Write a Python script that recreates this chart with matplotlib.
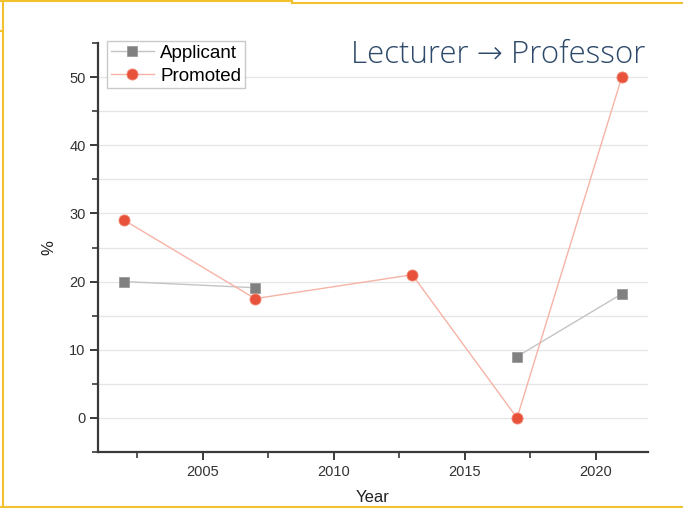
import numpy as np
import matplotlib.pyplot as plt
from matplotlib.lines import Line2D

years = [2002, 2007, 2013, 2017, 2021]
applicant = [20.0, 19.1, np.nan, 9.0, 18.2]
promoted = [29.0, 17.5, 21.0, 0.0, 50.0]

plt.rcParams['font.family'] = ['Liberation Sans', 'DejaVu Sans']

fig = plt.figure(figsize=(6.83, 5.08), dpi=100)
ax = fig.add_axes([98 / 683, 56 / 508, 550 / 683, 409 / 508])

# horizontal grid every 5
for g in range(0, 55, 5):
    ax.axhline(g, color='#e6e6e6', linewidth=0.9, zorder=0)

ax.plot(years, applicant, color='#c4c4c4', linewidth=1.0, marker='s',
        markersize=7, markerfacecolor='#808080', markeredgecolor='#9a9a9a',
        markeredgewidth=0.6, label='Applicant', zorder=3)
ax.plot(years, promoted, color='#f6b3a6', linewidth=1.0, marker='o',
        markersize=8, markerfacecolor='#e8523a', markeredgecolor='#f08a78',
        markeredgewidth=0.6, label='Promoted', zorder=4)

ax.set_xlim(2001, 2022)
ax.set_ylim(-5, 55)
ax.set_xticks([2005, 2010, 2015, 2020])
ax.set_xticks([2002.5, 2007.5, 2012.5, 2017.5], minor=True)
ax.set_yticks([0, 10, 20, 30, 40, 50])
ax.set_yticks([-5, 5, 15, 25, 35, 45, 55], minor=True)

for s in ['top', 'right']:
    ax.spines[s].set_visible(False)
for s in ['left', 'bottom']:
    ax.spines[s].set_color('#3a3a3a')
    ax.spines[s].set_linewidth(1.6)

ax.tick_params(which='major', length=6, width=1.4, color='#3a3a3a',
               labelsize=10.5, labelcolor='#333333', pad=3)
ax.tick_params(which='minor', length=4, width=1.2, color='#3a3a3a')

ax.set_xlabel('Year', fontsize=12, color='#222222', labelpad=8)
ax.set_ylabel('%', fontsize=12, color='#222222', labelpad=9)

leg = ax.legend(loc='upper left', bbox_to_anchor=(9 / 550, 1 + 2 / 409),
                fontsize=13.5, frameon=True, fancybox=False,
                handlelength=2.3, handletextpad=0.35, borderpad=0.2,
                labelspacing=0.3, borderaxespad=0)
leg.get_frame().set_edgecolor('#bdbdbd')
leg.get_frame().set_linewidth(1.0)

fig.text(645 / 683, 1 - 63 / 508, 'Lecturer \u2192 Professor',
         family=['Open Sans', 'DejaVu Sans'], fontweight='light', fontsize=22.5,
         color='#2d4a6a', ha='right', va='baseline')

# yellow frame lines
yc = '#f2c12e'
fig.add_artist(Line2D([3 / 683, 3 / 683], [0, 1], color=yc, linewidth=1.5))
fig.add_artist(Line2D([0, 292 / 683], [1 - 0.5 / 508, 1 - 0.5 / 508], color=yc, linewidth=1.5))
fig.add_artist(Line2D([292 / 683, 292 / 683], [1, 1 - 2.5 / 508], color=yc, linewidth=1.5))
fig.add_artist(Line2D([292 / 683, 1], [1 - 2.5 / 508, 1 - 2.5 / 508], color=yc, linewidth=1.5))
fig.add_artist(Line2D([0, 3 / 683], [1 - 31 / 508, 1 - 31 / 508], color=yc, linewidth=1.5))
fig.add_artist(Line2D([0, 1], [1.5 / 508, 1.5 / 508], color=yc, linewidth=1.5))

fig.savefig('out.png', dpi=100)
